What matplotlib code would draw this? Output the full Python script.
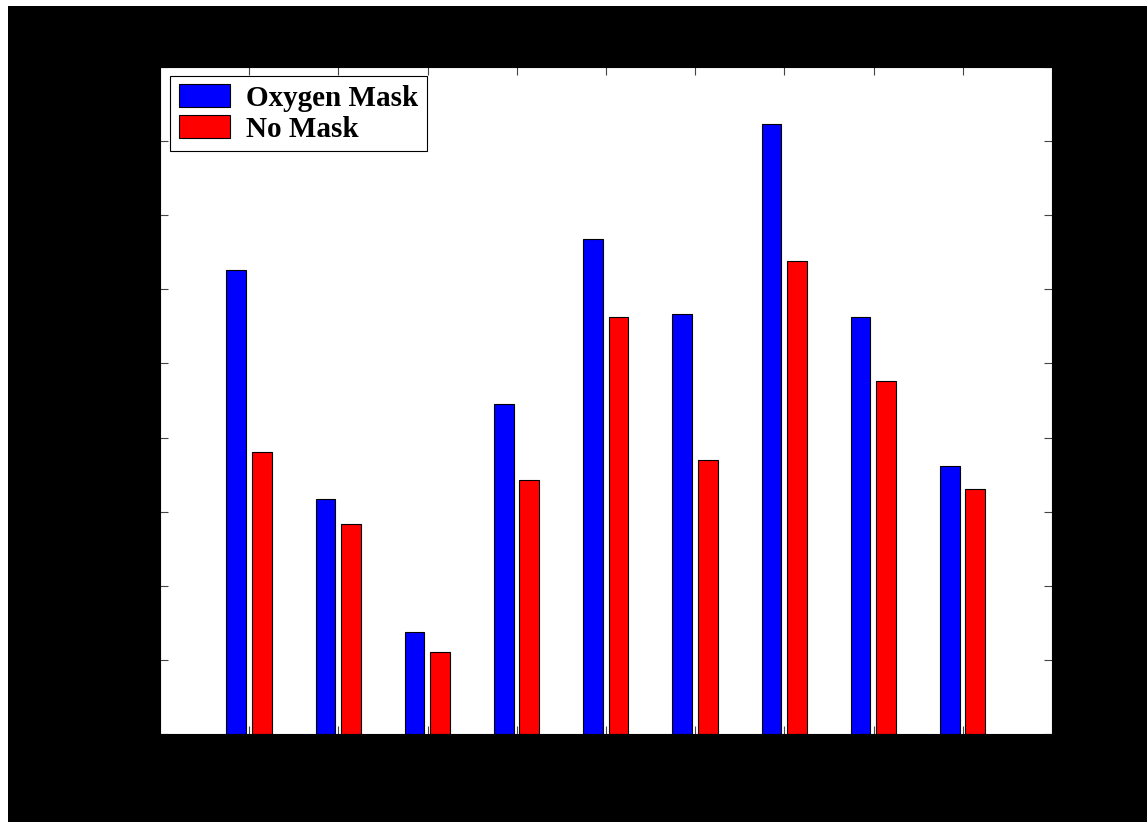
import matplotlib
matplotlib.use('Agg')
import matplotlib.pyplot as plt
import numpy as np
from matplotlib.patches import Rectangle

# data (arbitrary units, 9 groups)
groups = [1, 2, 3, 4, 5, 6, 7, 8, 9]
oxygen_mask = [6.26, 3.17, 1.38, 4.45, 6.68, 5.67, 8.23, 5.63, 3.62]
no_mask = [3.81, 2.83, 1.11, 3.43, 5.63, 3.70, 6.38, 4.76, 3.31]
series_labels = ['Oxygen Mask', 'No Mask']

fig = plt.figure(figsize=(11.47, 8.22), dpi=100, facecolor='white')
# black backdrop like the reference (white sliver at top/left)
fig.patches.append(Rectangle((8 / 1147, 0), 1, 1 - 6 / 822, transform=fig.transFigure,
                             facecolor='black', edgecolor='none', zorder=-10))

ax = fig.add_axes([160 / 1147, 88 / 822, 892 / 1147, 667 / 822])
ax.set_facecolor('white')

x = np.array(groups)
w = 0.22
ax.bar(x - 0.145, oxygen_mask, w, color='#0000ff', edgecolor='black', linewidth=0.8,
       label=series_labels[0])
ax.bar(x + 0.14, no_mask, w, color='#ff0000', edgecolor='black', linewidth=0.8,
       label=series_labels[1])

ax.set_xlim(0, 10)
ax.set_ylim(0, 9)
ax.set_xticks(groups)
ax.set_yticks(np.arange(0, 10, 1))
ax.tick_params(direction='in', length=6, width=0.8, color='#444444',
               top=True, right=True, labelcolor='black', labelsize=14)
for s in ax.spines.values():
    s.set_color('black')

leg = ax.legend(loc='upper left', bbox_to_anchor=(0.011, 0.987), fancybox=False,
                framealpha=1, edgecolor='black', borderaxespad=0,
                prop={'family': 'Liberation Serif', 'weight': 'bold', 'size': 21},
                handlelength=1.75, handleheight=0.8, handletextpad=0.55,
                labelspacing=0.12, borderpad=0.3)
leg.get_frame().set_linewidth(0.8)

fig.savefig('out.png', dpi=100, facecolor=fig.get_facecolor())
